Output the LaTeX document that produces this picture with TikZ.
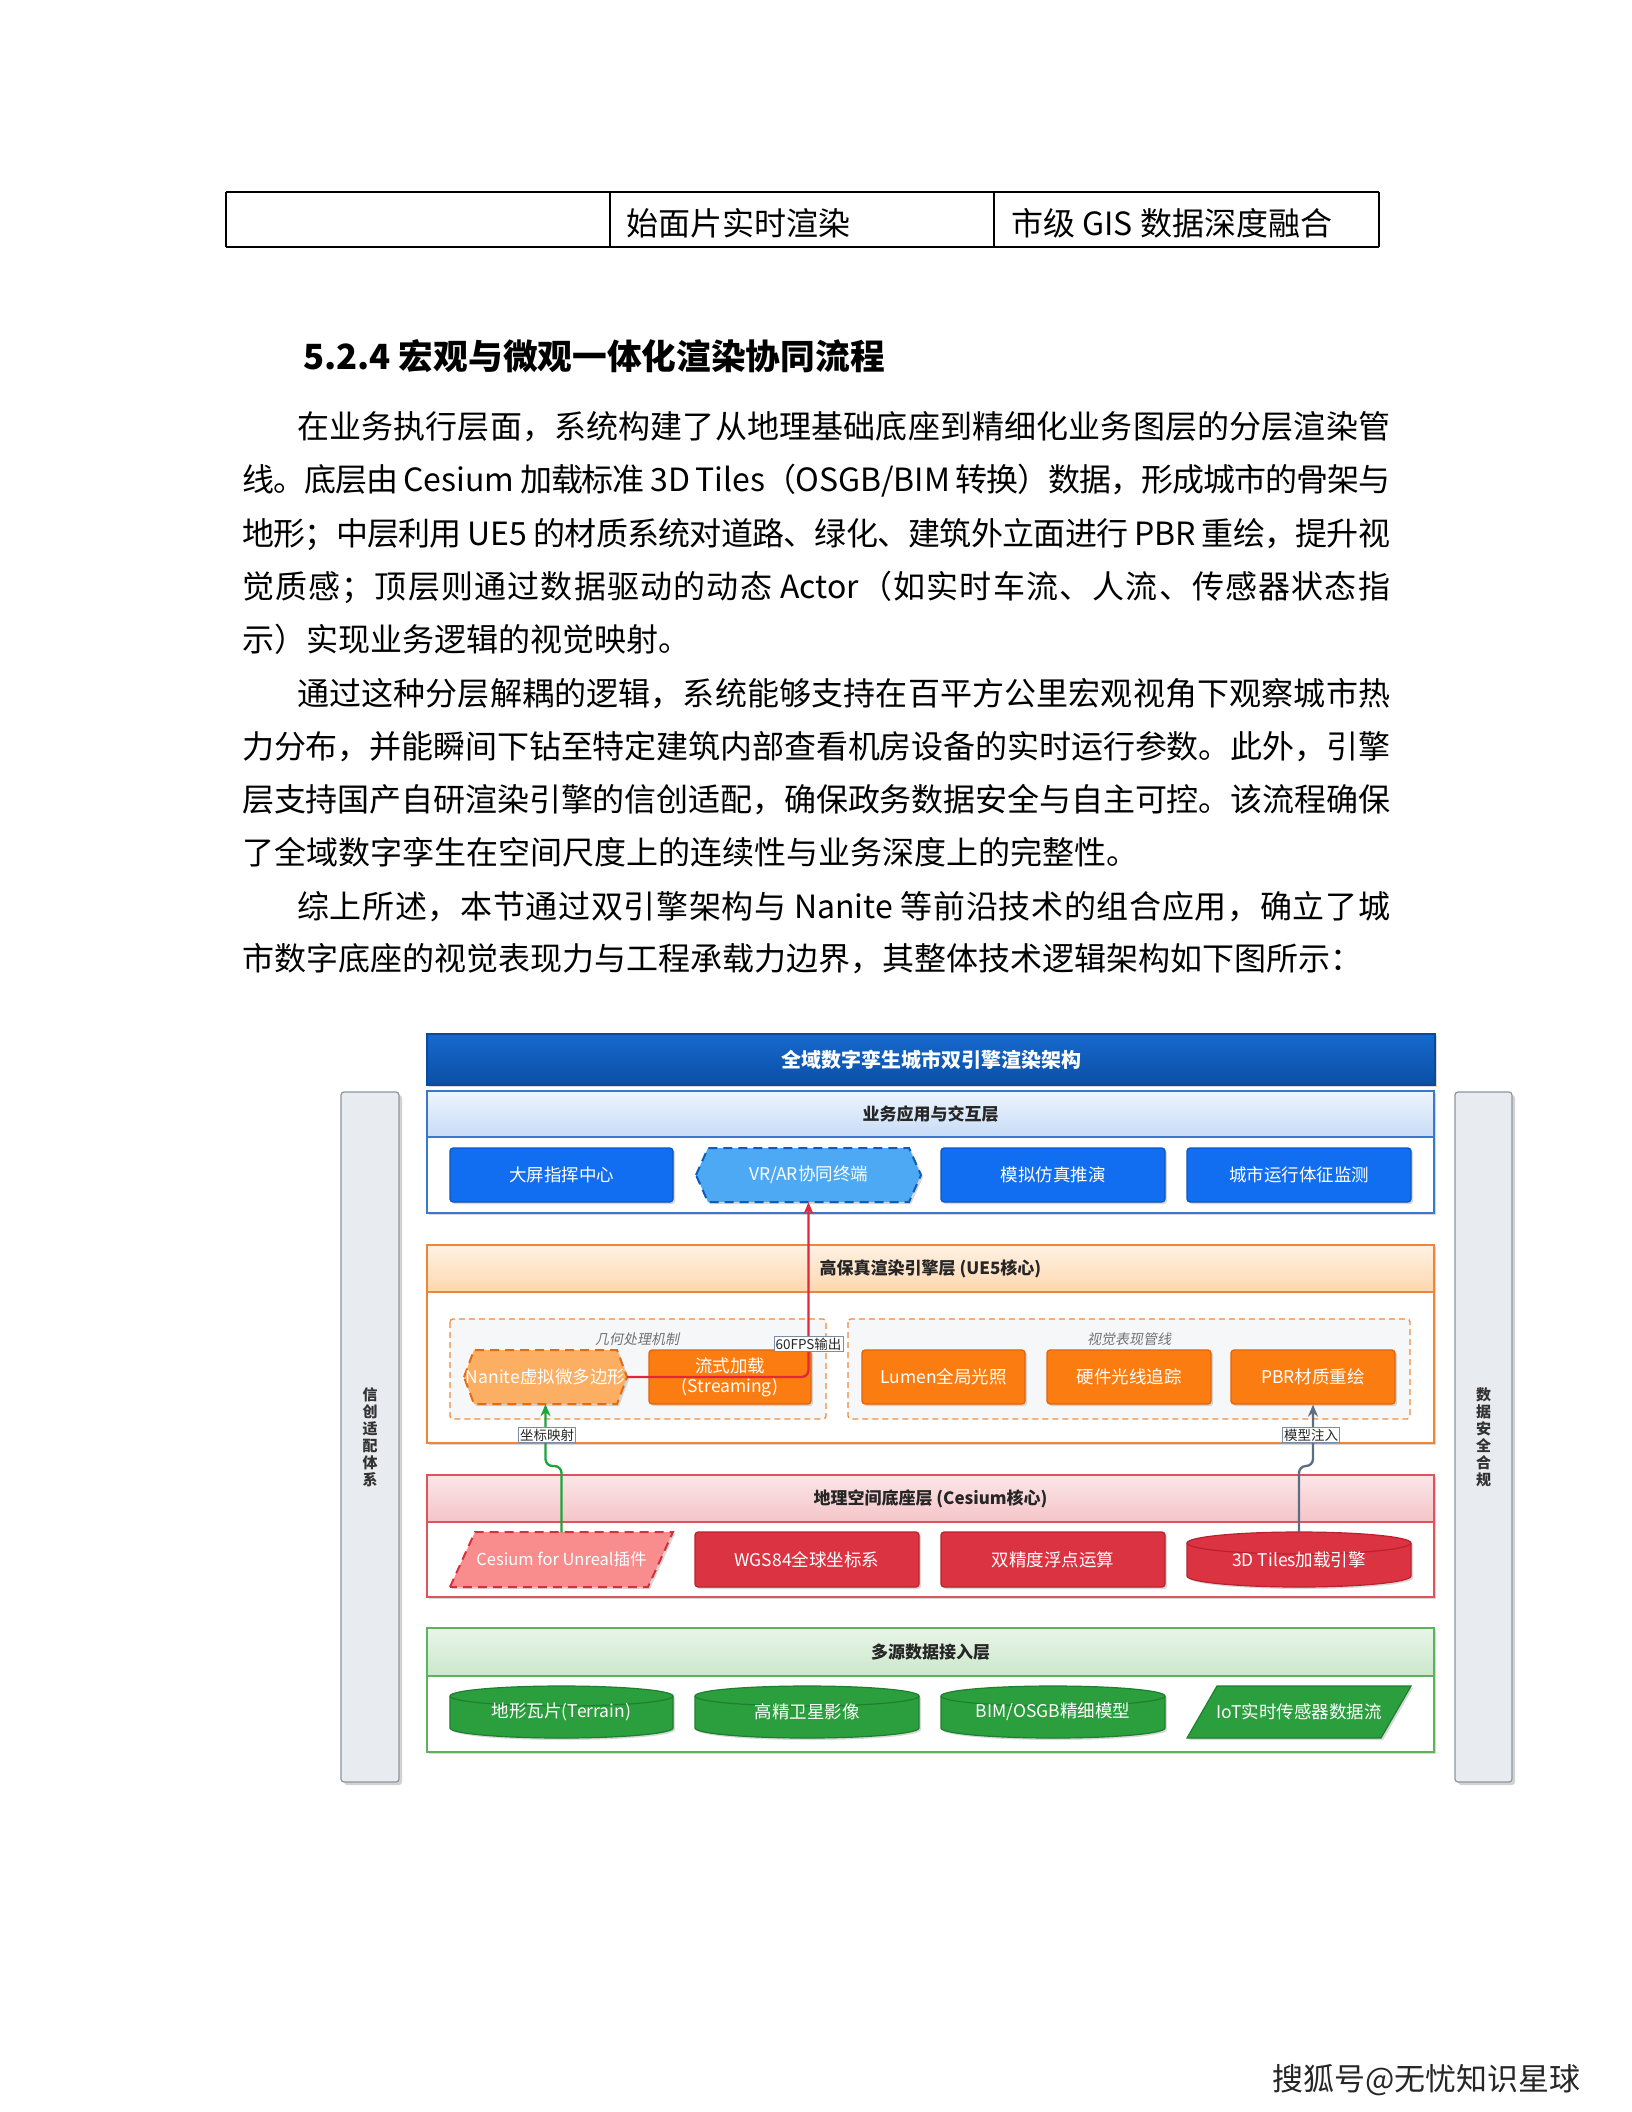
\documentclass[tikz,border=0pt]{standalone}
\usepackage{fontspec}
\setmainfont{Noto Sans CJK SC}
\newfontfamily\cjkit{Noto Sans CJK SC}[FakeSlant=0.2]
\usetikzlibrary{shadows,arrows.meta,calc}
\XeTeXinterchartokenstate=1
\newcount\cccnt
\cccnt="4E00
\loop \XeTeXcharclass\cccnt=1 \advance\cccnt by 1 \ifnum\cccnt<"A000 \repeat
\XeTeXcharclass"FF0C=1 \XeTeXcharclass"FF1B=1 \XeTeXcharclass"FF1A=1
\XeTeXcharclass"FF08=1 \XeTeXcharclass"FF09=1 \XeTeXcharclass"3002=1 \XeTeXcharclass"3001=1
\XeTeXinterchartoks 1 1 = {\hskip 0pt plus 4pt minus 1.5pt}
\XeTeXinterchartoks 0 1 = {\hskip 0pt plus 4pt minus 1.5pt}
\XeTeXinterchartoks 1 0 = {\hskip 0pt plus 4pt minus 1.5pt}
\definecolor{titleT}{HTML}{1769CE}
\definecolor{titleB}{HTML}{0A4FA5}
\definecolor{titleD}{HTML}{0A4A9C}
\definecolor{blueF}{HTML}{126EF0}
\definecolor{blueD}{HTML}{0B55C4}
\definecolor{vrF}{HTML}{4DA9F4}
\definecolor{vrD}{HTML}{0F5DB8}
\definecolor{l1D}{HTML}{3A78D0}
\definecolor{l1T}{HTML}{EEF5FE}
\definecolor{l1B}{HTML}{C7DCF6}
\definecolor{orF}{HTML}{FB7D12}
\definecolor{orD}{HTML}{E0650A}
\definecolor{naF}{HTML}{FCAE62}
\definecolor{naD}{HTML}{E36B12}
\definecolor{l2D}{HTML}{F0843A}
\definecolor{l2T}{HTML}{FFF2E3}
\definecolor{l2B}{HTML}{FDD7AE}
\definecolor{grpF}{HTML}{F6F7F9}
\definecolor{grpD}{HTML}{F08A3C}
\definecolor{redF}{HTML}{DC3343}
\definecolor{redD}{HTML}{B9212F}
\definecolor{cesF}{HTML}{F98D8E}
\definecolor{cesD}{HTML}{D5303E}
\definecolor{l3D}{HTML}{E0525E}
\definecolor{l3T}{HTML}{FCE6E8}
\definecolor{l3B}{HTML}{F4C4C8}
\definecolor{grF}{HTML}{2B9E3E}
\definecolor{grD}{HTML}{1E7F2F}
\definecolor{l4D}{HTML}{5CB35E}
\definecolor{l4T}{HTML}{E8F5E8}
\definecolor{l4B}{HTML}{CBE7CB}
\definecolor{sideF}{HTML}{E8EBEF}
\definecolor{sideD}{HTML}{8C959F}
\definecolor{redE}{HTML}{E0283C}
\definecolor{greenE}{HTML}{1FA33A}
\definecolor{grayE}{HTML}{5E6E82}
\definecolor{labD}{HTML}{7C8CA3}
\newcommand\bodyfont{\fontsize{32}{38}\selectfont}
\newcommand\jl[5]{\node[anchor=base west,inner sep=0pt] (#1) at (#2,#3) {\bodyfont\hbox to #4pt{#5}};}
\newcommand\nl[4]{\node[anchor=base west,inner sep=0pt] (#1) at (#2,#3) {\bodyfont #4};}
\newcommand\hexshape[6]{\path[#6] (#1,{(#2+#4)/2}) -- (#1+#5,#2) -- (#3-#5,#2) -- (#3,{(#2+#4)/2}) -- (#3-#5,#4) -- (#1+#5,#4) -- cycle;}
\newcommand\parashape[6]{\path[#6] (#1,#4) -- (#1+#5,#2) -- (#3,#2) -- (#3-#5,#4) -- cycle;}
\newcommand\cylshape[7]{\pgfmathsetmacro\rx{(#3-#1)/2}%
 \path[#6] (#1,#2+#5) -- (#1,#4-#5) arc[start angle=180,end angle=360,x radius=\rx pt,y radius=#5pt] -- (#3,#2+#5) arc[start angle=0,end angle=180,x radius=\rx pt,y radius=#5pt] -- cycle;
 \draw[#7] (#1,#2+#5) arc[start angle=180,end angle=360,x radius=\rx pt,y radius=#5pt];}
\tikzset{
 shad/.style={drop shadow={shadow xshift=2pt,shadow yshift=-2pt,opacity=.3}},
 dbox/.style={rounded corners=3pt, line width=1.2pt, text=white, minimum height=54pt, inner sep=2pt, align=center, shad, font=\fontsize{17.5}{20}\selectfont},
 bluebox/.style={dbox, fill=blueF, draw=blueD},
 orangebox/.style={dbox, fill=orF, draw=orD},
 redbox/.style={dbox, fill=redF, draw=redD},
 plaintxt/.style={text=white, align=center, inner sep=0pt, minimum height=54pt, font=\fontsize{17.5}{20}\selectfont},
 headtext/.style={font=\fontsize{17}{20}\selectfont\bfseries, text=black!85},
 elabel/.style={fill=white, draw=labD, line width=0.8pt, inner sep=1.5pt, font=\fontsize{13.5}{16}\selectfont, text=black!85},
 grouplabel/.style={font=\cjkit\fontsize{14}{16}\selectfont, text=black!55},
 sidebar/.style={draw=sideD, fill=sideF, rounded corners=3pt, line width=1.2pt, align=center, drop shadow={shadow xshift=3pt,shadow yshift=-3pt,opacity=.35}, font=\fontsize{15}{17}\selectfont\bfseries, text=black!80},
 groupbox/.style={draw=grpD, fill=grpF, dash pattern=on 6pt off 4pt, line width=1.3pt, rounded corners=3pt},
 conn/.style={line width=2.3pt, rounded corners=7pt, -{Stealth[length=12pt,width=10pt]}},
}
\newcommand\layerbox[8]{%
 \draw[draw=#5, line width=1.3pt, fill=white, shad] (427,#2) rectangle (1434,#4);
 \path[top color=#6, bottom color=#7] (427,#2) rectangle (1434,#3);
 \draw[#5, line width=1.3pt] (427,#2) rectangle (1434,#4) (427,#3) -- (1434,#3);
 \node[headtext] (#1) at (930.5,{(#2+#3)/2}) {#8};}
\begin{document}
\begin{tikzpicture}[x=1pt,y=-1pt]
\useasboundingbox (0,0) rectangle (1632,2112);
\fill[white] (0,0) rectangle (1632,2112);
% table
\draw[line width=1.5pt] (226,192) -- (1379,192) (226,247) -- (1379,247) (226,192) -- (226,247) (610,192) -- (610,247) (994,192) -- (994,247) (1379,192) -- (1379,247);
\node[anchor=base west,inner sep=0pt] (t1) at (626,235.5) {\bodyfont 始面片实时渲染};
\node[anchor=base west,inner sep=0pt] (t2) at (1011,235.5) {\bodyfont 市级 GIS 数据深度融合};
% heading
\node[anchor=base west,inner sep=0pt] (head) at (303,369) {\fontsize{34.7}{40}\selectfont\bfseries 5.2.4 宏观与微观一体化渲染协同流程};
% paragraphs
\jl{p1}{297}{438}{1093}{在业务执行层面，系统构建了从地理基础底座到精细化业务图层的分层渲染管}
\jl{p2}{242}{491.5}{1148}{线。底层由 Cesium 加载标准 3D Tiles（OSGB/BIM 转换）数据，形成城市的骨架与}
\jl{p3}{242}{545}{1148}{地形；中层利用 UE5 的材质系统对道路、绿化、建筑外立面进行 PBR 重绘，提升视}
\jl{p4}{242}{598.5}{1148}{觉质感；顶层则通过数据驱动的动态 Actor（如实时车流、人流、传感器状态指}
\nl{p5}{242}{651.5}{示）实现业务逻辑的视觉映射。}
\jl{p6}{297}{705}{1093}{通过这种分层解耦的逻辑，系统能够支持在百平方公里宏观视角下观察城市热}
\jl{p7}{242}{758}{1148}{力分布，并能瞬间下钻至特定建筑内部查看机房设备的实时运行参数。此外，引擎}
\jl{p8}{242}{811.5}{1148}{层支持国产自研渲染引擎的信创适配，确保政务数据安全与自主可控。该流程确保}
\nl{p9}{242}{864.5}{了全域数字孪生在空间尺度上的连续性与业务深度上的完整性。}
\jl{p10}{297}{918}{1093}{综上所述，本节通过双引擎架构与 Nanite 等前沿技术的组合应用，确立了城}
\nl{p11}{242}{970}{市数字底座的视觉表现力与工程承载力边界，其整体技术逻辑架构如下图所示：}
% side bars
\node[sidebar, minimum width=58pt, minimum height=690pt] (sideL) at (370,1437) {信\\创\\适\\配\\体\\系};
\node[sidebar, minimum width=57pt, minimum height=690pt] (sideR) at (1483.5,1437) {数\\据\\安\\全\\合\\规};
% title
\node[draw=titleD, line width=1.2pt, top color=titleT, bottom color=titleB, minimum width=1008pt, minimum height=51pt, text=white, font=\fontsize{20}{24}\selectfont\bfseries, shad] (title) at (931,1059.5) {全域数字孪生城市双引擎渲染架构};
% layers
\layerbox{h1}{1091}{1137}{1213}{l1D}{l1T}{l1B}{业务应用与交互层}
\layerbox{h2}{1245}{1292}{1443}{l2D}{l2T}{l2B}{高保真渲染引擎层 (UE5核心)}
\layerbox{h3}{1475}{1522}{1597}{l3D}{l3T}{l3B}{地理空间底座层 (Cesium核心)}
\layerbox{h4}{1628}{1676}{1752}{l4D}{l4T}{l4B}{多源数据接入层}
% layer 1 boxes
\node[bluebox, minimum width=223pt] (b1) at (561.5,1175) {大屏指挥中心};
\hexshape{696}{1148}{921}{1202}{12}{fill=vrF, draw=vrD, line width=2pt, dash pattern=on 9pt off 6pt, shad}
\node[plaintxt, minimum width=225pt] (vrar) at (808.5,1175) {VR/AR协同终端};
\node[bluebox, minimum width=224pt] (b3) at (1053,1175) {模拟仿真推演};
\node[bluebox, minimum width=224pt] (b4) at (1299,1175) {城市运行体征监测};
% layer 2 groups
\draw[groupbox] (450,1319) rectangle (826,1419);
\draw[groupbox] (848,1319) rectangle (1410,1419);
\node[grouplabel] (g1) at (637,1339) {几何处理机制};
\node[grouplabel] (g2) at (1129,1339) {视觉表现管线};
\hexshape{464}{1350}{627}{1404}{10}{fill=naF, draw=naD, line width=2pt, dash pattern=on 9pt off 6pt, shad}
\node[plaintxt, minimum width=163pt] (nanite) at (545.5,1377) {Nanite虚拟微多边形};
\node[orangebox, minimum width=162pt] (stream) at (730,1377) {流式加载\\(Streaming)};
\node[orangebox, minimum width=163pt] (lumen) at (943.5,1377) {Lumen全局光照};
\node[orangebox, minimum width=164pt] (rt) at (1129,1377) {硬件光线追踪};
\node[orangebox, minimum width=164pt] (pbr) at (1313,1377) {PBR材质重绘};
% layer 3
\parashape{450}{1532}{673}{1587}{25}{fill=cesF, draw=cesD, line width=2pt, dash pattern=on 9pt off 6pt, shad}
\node[plaintxt, minimum width=223pt, font=\fontsize{16.5}{20}\selectfont] (cesium) at (561.5,1559.5) {Cesium for Unreal插件};
\node[redbox, minimum width=224pt, minimum height=55pt] (wgs) at (807,1559.5) {WGS84全球坐标系};
\node[redbox, minimum width=224pt, minimum height=55pt] (dbl) at (1053,1559.5) {双精度浮点运算};
\cylshape{1187}{1532}{1411}{1587}{11}{fill=redF, draw=redD, line width=1.2pt, shad}{redD, line width=1.2pt}
\node[plaintxt, minimum width=224pt, minimum height=55pt] (tiles) at (1299,1559.5) {3D Tiles加载引擎};
% layer 4
\cylshape{450}{1686}{673}{1738}{10}{fill=grF, draw=grD, line width=1.2pt, shad}{grD, line width=1.2pt}
\node[plaintxt, minimum width=223pt, minimum height=52pt] (terrain) at (561.5,1712) {地形瓦片(Terrain)};
\cylshape{695}{1686}{919}{1738}{10}{fill=grF, draw=grD, line width=1.2pt, shad}{grD, line width=1.2pt}
\node[plaintxt, minimum width=224pt, minimum height=52pt] (sat) at (807,1712) {高精卫星影像};
\cylshape{941}{1686}{1165}{1738}{10}{fill=grF, draw=grD, line width=1.2pt, shad}{grD, line width=1.2pt}
\node[plaintxt, minimum width=224pt, minimum height=52pt] (bim) at (1053,1712) {BIM/OSGB精细模型};
\parashape{1187}{1686}{1411}{1738}{30}{fill=grF, draw=grD, line width=1.2pt, shad}
\node[plaintxt, minimum width=224pt, minimum height=52pt] (iot) at (1299,1712) {IoT实时传感器数据流};
% connectors
\coordinate (jg) at (0,1466);
\draw[conn, redE] (nanite.east) -- (vrar.south |- nanite.east) -- (vrar.south);
\draw[conn, greenE] (cesium.north) -- (cesium.north |- jg) -- (nanite.south |- jg) -- (nanite.south);
\draw[conn, grayE] (tiles.north) -- (tiles.north |- jg) -- (pbr.south |- jg) -- (pbr.south);
\node[elabel] (e1) at (808.5,1344) {60FPS输出};
\node[elabel] (e2) at (547,1435) {坐标映射};
\node[elabel] (e3) at (1311,1435) {模型注入};
% footer
\node[anchor=base west, inner sep=0pt, text=black!85] (foot) at (1272,2090) {\fontsize{31}{36}\selectfont 搜狐号@无忧知识星球};
\end{tikzpicture}
\end{document}
